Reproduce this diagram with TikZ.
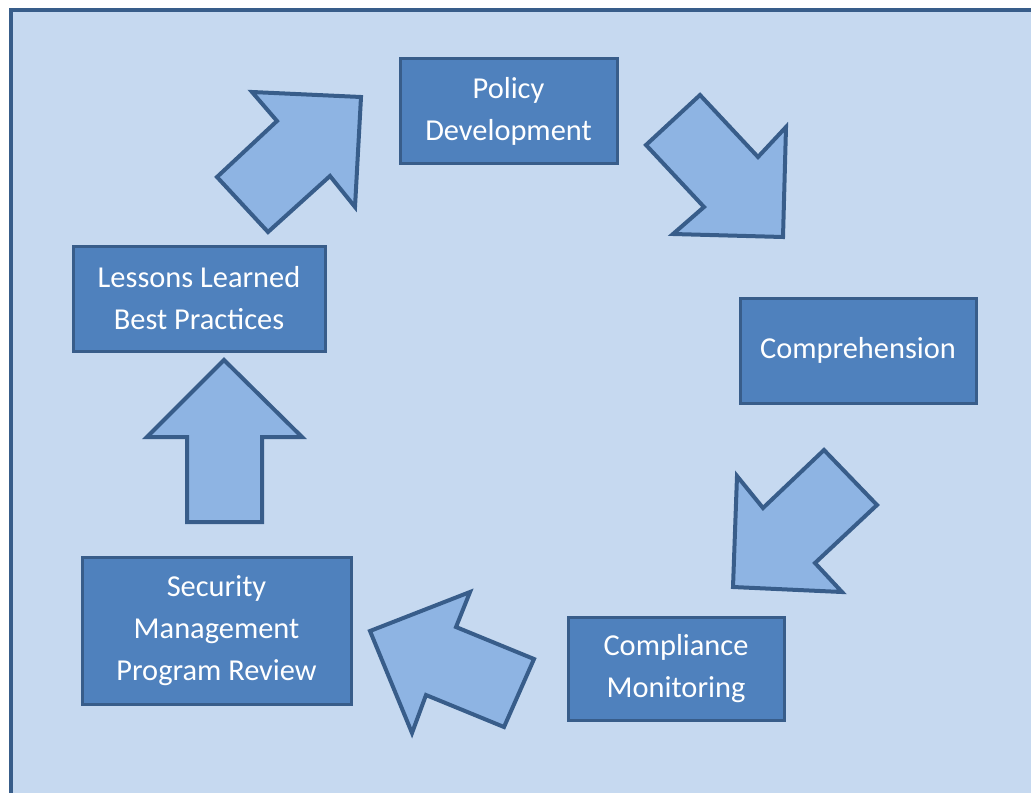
\documentclass[tikz,border=0pt]{standalone}
\usepackage{fontspec}
\setmainfont{Carlito}
\definecolor{paneblue}{HTML}{C6D9F0}
\definecolor{boxblue}{HTML}{4F81BD}
\definecolor{edgeblue}{HTML}{385D8A}
\definecolor{arrowblue}{HTML}{8EB4E3}
\tikzset{
  stepbox/.style={draw=edgeblue,fill=boxblue,line width=1.5pt,text=white,
    align=center,inner sep=0pt,font=\fontsize{15.2}{21}\selectfont},
  blockarrow/.style={draw=edgeblue,fill=arrowblue,line width=2pt,line join=miter}
}
\begin{document}
\begin{tikzpicture}[x=0.5pt,y=-0.5pt]
		\useasboundingbox (0,0) rectangle (1031,792);
		\fill[white] (0,0) rectangle (1031,792);
		%%%%%%%%%%%%%%%
		\draw[fill=paneblue,draw=edgeblue,line width=2pt] (11,10) rectangle (1045,805);
		%%%%%%%%%%%%%%%
		\node[stepbox,minimum width=108.5pt,minimum height=52pt] (policy) at (508.5,111) {Policy\\Development};
		\node[stepbox,minimum width=118pt,minimum height=52.5pt] (compr) at (858,350.5) {Comprehension};
		\node[stepbox,minimum width=108pt,minimum height=51.5pt] (monitor) at (676,668.5) {Compliance\\Monitoring};
		\node[stepbox,minimum width=134.5pt,minimum height=73.5pt] (review) at (216.5,630.5) {Security\\Management\\Program Review};
		\node[stepbox,minimum width=126pt,minimum height=52.5pt] (lessons) at (199,298.5) {Lessons Learned\\Best Practices};
		%%%%%%%%%%%%%%%
		\draw[blockarrow] (252,92) -- (361,97) -- (355,207) -- (330,176) -- (268,232) -- (217,177) -- (277,121) -- cycle;
		\draw[blockarrow] (700,95) -- (758,157) -- (786,127) -- (783,237) -- (673,234) -- (704,207) -- (646,145) -- cycle;
		\draw[blockarrow] (824,450) -- (877,505) -- (815,563) -- (842,592) -- (733,587) -- (737,476) -- (763,508) -- cycle;
		\draw[blockarrow] (470,592) -- (456,627) -- (534,659) -- (504,727) -- (426,695) -- (412,733) -- (370,631) -- cycle;
		\draw[blockarrow] (224,360) -- (302,437) -- (262,437) -- (262,522) -- (187,522) -- (187,437) -- (147,437) -- cycle;
\end{tikzpicture}
\end{document}
